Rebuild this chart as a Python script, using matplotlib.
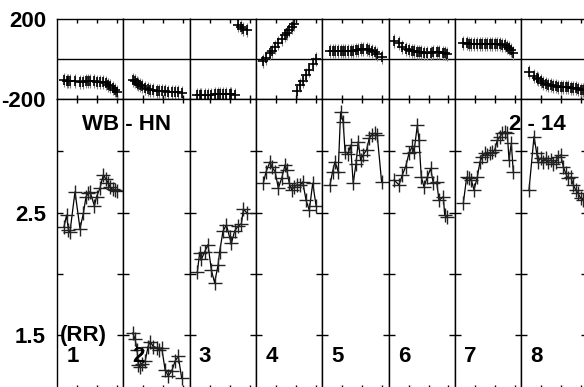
"""Phase / RR small multiples, WB - HN, runs 2 - 14."""

import matplotlib
matplotlib.use("Agg")
import matplotlib.pyplot as plt

# per-column sample positions (0..33 within each column)
X_POS = [
    [3.5, 4.8, 5.7, 6.5, 9.0, 11.5, 13.2, 14.5, 15.7, 16.5, 18.7, 19.8, 21.5, 23.2, 24.5, 25.7, 26.5, 27.8, 29.0, 30.2],
    [4.7, 5.9, 6.9, 7.5, 8.4, 9.2, 10.9, 12.4, 13.4, 15.0, 16.7, 17.9, 19.2, 20.9, 22.5, 24.2, 25.9, 27.5, 29.2],
    [3.9, 5.0, 5.9, 7.5, 9.2, 10.9, 12.5, 14.2, 15.0, 16.7, 18.4, 20.0, 20.9, 22.5, 24.2, 25.9, 26.9, 28.5],
    [3.7, 5.1, 7.1, 7.9, 9.6, 11.2, 12.9, 14.6, 15.4, 16.7, 17.9, 19.1, 20.4, 22.1, 23.4, 25.1, 26.7, 28.4, 30.1],
    [3.9, 5.2, 6.4, 8.0, 9.2, 10.5, 11.4, 13.0, 14.2, 15.5, 16.9, 18.0, 19.2, 20.5, 22.2, 23.5, 24.7, 26.4, 27.5, 29.7],
    [2.75, 5.25, 6.9, 8.6, 10.25, 11.9, 12.75, 14.4, 15.25, 16.4, 17.75, 19.4, 21.1, 22.4, 24.1, 25.25, 27.4, 28.1, 29.4],
    [4.25, 5.95, 7.1, 8.25, 9.6, 11.25, 12.6, 13.75, 14.95, 16.25, 17.6, 18.75, 19.95, 21.25, 22.6, 23.75, 24.95, 26.25, 27.1, 28.25, 29.25],
    [3.95, 6.45, 7.8, 8.45, 9.8, 11.1, 12.3, 13.45, 14.8, 16.1, 17.3, 18.45, 19.8, 21.1, 22.3, 23.45, 24.8, 26.1, 27.3, 28.45, 29.8, 31.1],
]

# phase (deg), top row
PHASE = [
    [-105, -107, -108, -109, -110, -111, -111, -110, -110, -110, -110, -111, -112, -115, -120, -127, -133, -142, -152, -163],
    [-102, -110, -118, -123, -130, -135, -142, -148, -151, -155, -157, -158, -159, -160, -161, -162, -163, -165, -168],
    [-176, -177, -177, -177, -176, -176, -175, -174, -174, -173, -173, -174, -175, -179, 172, 162, 153, 145],
    [-10, 7, 30, 40, 60, 80, 100, 120, 130, 145, 160, 175, -160, -130, -110, -80, -55, -25, 3],
    [44, 43, 42, 42, 41, 41, 41, 42, 43, 44, 46, 48, 50, 51, 50, 47, 42, 35, 27, 10],
    [92, 80, 62, 52, 47, 44, 42, 38, 37, 35, 34, 33, 34, 35, 36, 35, 33, 31, 29],
    [82, 80, 79, 78, 78, 78, 78, 78, 78, 78, 78, 78, 78, 78, 76, 74, 70, 63, 56, 45, 30],
    [-65, -85, -95, -100, -108, -116, -122, -127, -130, -133, -135, -137, -138, -139, -140, -140, -141, -143, -145, -148, -152, -155],
]

# RR, bottom row
RR = [
    [2.385, 2.48, 2.36, 2.345, 2.67, 2.37, 2.495, 2.63, 2.66, 2.67, 2.555, 2.63, 2.70, 2.81, 2.77, 2.74, 2.71, 2.69, 2.685, 2.68],
    [1.52, 1.47, 1.38, 1.26, 1.24, 1.27, 1.29, 1.41, 1.45, 1.41, 1.40, 1.38, 1.40, 1.22, 1.17, 1.21, 1.29, 1.33, 1.15],
    [2.02, 2.17, 2.12, 2.18, 2.24, 2.03, 1.93, 2.07, 2.18, 2.35, 2.40, 2.30, 2.25, 2.35, 2.39, 2.41, 2.53, 2.50],
    [2.74, 2.834, 2.915, 2.875, 2.834, 2.70, 2.78, 2.89, 2.85, 2.74, 2.685, 2.71, 2.725, 2.725, 2.75, 2.60, 2.52, 2.74, 2.555],
    [2.726, 2.834, 2.915, 2.834, 3.32, 3.24, 2.997, 2.98, 3.05, 2.74, 2.90, 3.078, 2.93, 2.97, 3.01, 3.106, 3.133, 3.147, 3.133, 2.75],
    [2.766, 2.726, 2.807, 2.875, 2.984, 3.04, 2.997, 3.21, 3.09, 2.79, 2.71, 2.79, 2.86, 2.74, 2.75, 2.60, 2.63, 2.48, 2.467],
    [2.577, 2.79, 2.78, 2.766, 2.685, 2.79, 2.915, 2.956, 2.984, 2.97, 2.984, 2.99, 3.01, 3.09, 3.12, 3.147, 3.16, 3.147, 2.93, 3.065, 2.834],
    [2.685, 3.12, 2.984, 2.915, 2.943, 2.915, 2.943, 2.915, 2.93, 2.90, 2.915, 2.956, 2.97, 2.875, 2.82, 2.78, 2.79, 2.726, 2.685, 2.66, 2.617, 2.60],
]

COL_LABELS = ["1", "2", "3", "4", "5", "6", "7", "8"]

W, H = 584, 387
FONT = dict(family="Liberation Sans", weight="bold", size=16)

plt.rcParams.update({
    "font.family": "Liberation Sans",
    "font.weight": "bold",
    "axes.linewidth": 1.0,
})

fig = plt.figure(figsize=(W / 100, H / 100), dpi=100)

left0 = 57 / W
colw = 66.3 / W
top_y0, top_h = (H - 99.3) / H, 80 / H
bot_y0, bot_h = (H - 388.5) / H, (388.5 - 99.3) / H


def _style(ax):
    ax.set_xlim(0, 33.15)
    ax.set_xticks([10, 20, 30])
    ax.tick_params(axis="x", direction="in", top=True, bottom=True,
                   length=3, width=1, labelbottom=False)
    for sp in ax.spines.values():
        sp.set_linewidth(1.0)


for k in range(8):
    x = X_POS[k]

    ax_t = fig.add_axes([left0 + k * colw, top_y0, colw, top_h])
    _style(ax_t)
    ax_t.set_ylim(-200, 200)
    ax_t.axhline(0, color="black", linewidth=1.0)
    ax_t.errorbar(x, PHASE[k], yerr=35, fmt="none", ecolor="#808080",
                  elinewidth=0.8)
    ax_t.plot(x, PHASE[k], linestyle="none", marker="+", color="black",
              markersize=7, markeredgewidth=1.2)
    if k == 0:
        ax_t.set_yticks([-200, 200])
        ax_t.set_yticklabels(["-200", "200"], fontdict=FONT)
        ax_t.tick_params(axis="y", length=0, pad=8)
    else:
        ax_t.set_yticks([])

    ax_b = fig.add_axes([left0 + k * colw, bot_y0, colw, bot_h])
    _style(ax_b)
    ax_b.set_ylim(1.068, 3.423)
    ax_b.set_yticks([1.5, 2.0, 2.5, 3.0])
    ax_b.tick_params(axis="y", direction="in", left=True, right=True,
                     length=4, width=1, pad=8)
    if k == 0:
        ax_b.set_yticklabels(["1.5", "", "2.5", ""], fontdict=FONT)
    else:
        ax_b.set_yticklabels([])
    ax_b.plot(x, RR[k], color="black", linewidth=0.9, marker="+",
              markersize=10, markeredgewidth=1.0, markeredgecolor="#222222")

    fig.text((57 + 66.3 * k + 15.5) / W, 1 - 357 / H, COL_LABELS[k],
             ha="center", va="center", **FONT)

fig.text(126.5 / W, 1 - 125 / H, "WB - HN", ha="center", va="center", **FONT)
fig.text(537 / W, 1 - 125 / H, "2 - 14", ha="center", va="center", **FONT)
fig.text(83.5 / W, 1 - 335 / H, "(RR)", ha="center", va="center", **FONT)

fig.savefig("out.png", dpi=100)
